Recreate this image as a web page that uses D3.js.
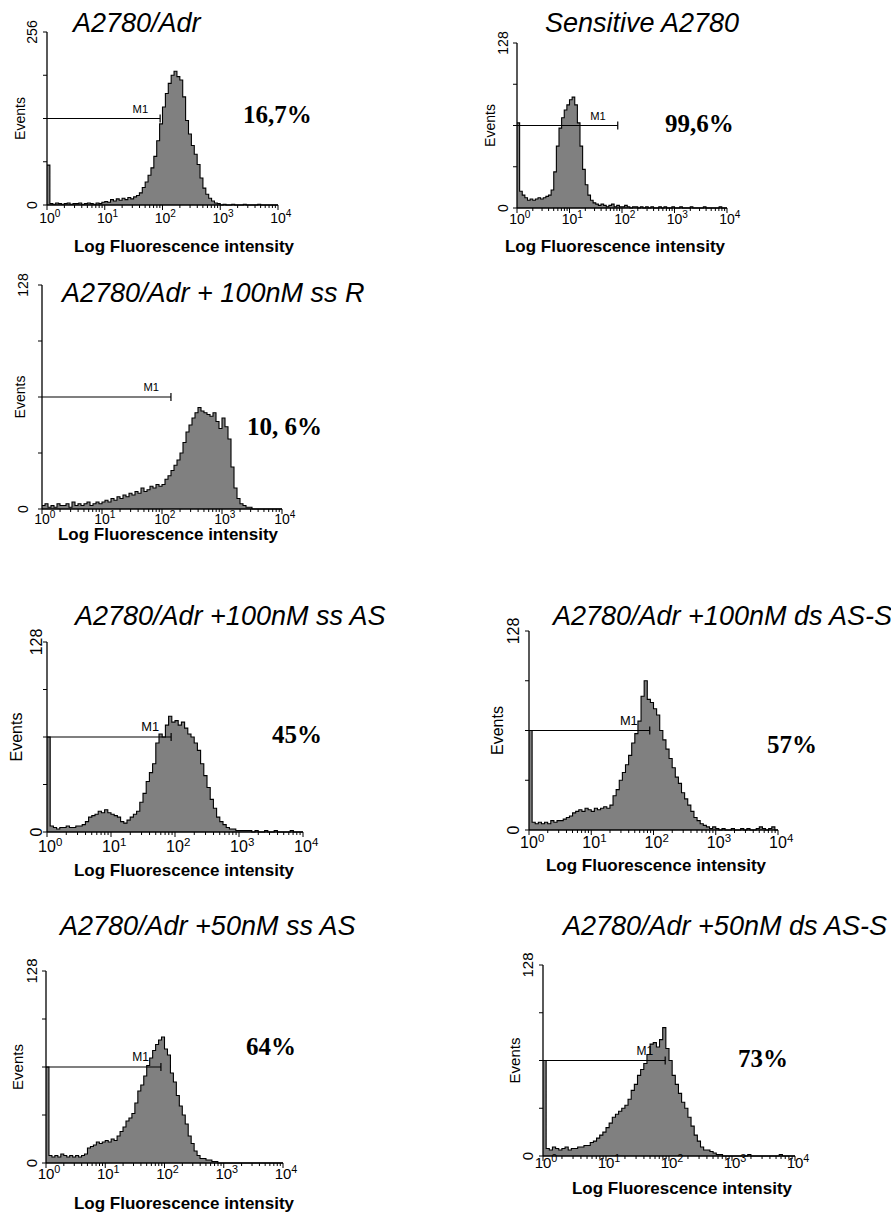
<!DOCTYPE html>
<html><head><meta charset="utf-8">
<script src="https://cdn.jsdelivr.net/npm/d3@7"></script>
<style>body{margin:0;background:#fff}</style>
</head><body>
<svg id="c" width="891" height="1213"></svg>
<script>
// ---------- data ----------
const titles = ["A2780/Adr", "Sensitive A2780", "A2780/Adr + 100nM ss R", "A2780/Adr +100nM ss AS",
                "A2780/Adr +100nM ds AS-S", "A2780/Adr +50nM ss AS", "A2780/Adr +50nM ds AS-S"];
const pctLabels = ["16,7%", "99,6%", "10, 6%", "45%", "57%", "64%", "73%"];
const yMaxValues = [256, 128, 128, 128, 128, 128, 128];
const gateLabel = "M1";
const gateEnds = [91, 83, 141, 87, 87, 87, 87];
const xTickExponents = [0, 1, 2, 3, 4];
const yAxisLabel = "Events";
const xAxisLabel = "Log Fluorescence intensity";
const binDecades = 0.05; // channel width in decades

const hist1 = [59,2,1,3,2,1,2,3,1,2, 2,3,1,2,3,2,1,3,2,4, 5,4,8,6,9,7,10,8,11,9,
  12,14,18,26,34,44,55,72,95,120, 145,165,180,192,198,190,185,160,125,105,
  88,75,60,40,25,16,10,6,3,2, 0,1,0,0,1,0,0,0,1,0, 0,0,0,1,0,0,0,0,0,0];
const hist2 = [66,13,10,8,6,7,6,7,8,7, 8,9,10,14,28,48,62,70,76,80, 84,86,80,66,48,30,18,10,6,4,
  3,2,3,2,1,2,3,1,2,1, 1,2,1,0,1,1,0,1,0,1, 0,1,0,0,1,0,1,0,0,1,
  0,0,1,0,0,0,1,0,0,0, 0,1,0,0,0,0,0,1,0,0];
const hist3 = [2,3,1,2,1,3,2,2,3,1, 4,2,3,2,3,4,2,3,4,3, 4,5,4,6,5,7,6,8,7,9,
  8,10,9,12,10,11,13,12,14,13, 14,17,19,22,25,28,32,38,44,48,
  52,55,58,56,55,54,53,55,50,46, 52,47,40,24,12,6,3,2,1,1, 0,0,0,0,0,0,0,0,0,0];
const hist4 = [64,4,3,2,3,3,4,3,3,4, 4,5,7,10,11,12,14,13,15,13, 12,11,10,7,6,8,10,12,14,20,
  26,34,40,46,60,66,64,72,78,74, 75,72,74,70,66,64,60,55,46,38,
  30,22,16,10,7,5,3,2,2,1, 1,1,1,1,0,1,0,0,1,0, 0,1,0,0,0,0,1,0,0,0];
const hist5 = [64,5,4,5,4,5,4,6,5,6, 6,7,8,9,11,12,13,12,14,13, 12,14,13,14,15,14,16,22,26,32,
  37,42,48,56,62,70,86,96,84,82, 78,74,64,58,52,46,40,34,30,24,
  20,16,12,8,6,4,3,2,1,2, 1,0,1,0,0,1,0,0,1,0, 1,0,0,1,2,1,0,1,2,0];
const hist6 = [64,5,4,5,4,6,5,4,5,4, 5,4,5,6,10,11,12,14,13,14, 15,14,16,15,18,21,24,28,30,33,
  40,48,52,58,65,70,75,79,82,84, 76,72,60,54,45,38,32,26,18,13,
  8,5,3,3,2,2,1,1,0,0, 0,0,0,0,0,0,0,0,0,0, 0,0,0,0,0,0,0,0,0,0];
const hist7 = [64,5,4,6,5,4,5,6,4,5, 5,6,6,7,7,9,10,12,14,16, 19,22,26,28,30,32,34,38,44,48,
  54,58,62,68,75,76,73,78,86,72, 64,54,48,42,36,32,26,20,14,10,
  6,4,4,3,2,1,1,0,0,0, 0,0,0,0,0,1,0,0,0,0, 0,0,0,0,0,1,0,0,0,0];
const histograms = [hist1, hist2, hist3, hist4, hist5, hist6, hist7];

// ---------- layout (positions only) ----------
const layout = [
  {l:47,  t:32,  r:278, b:205,  fs:14, tdy:18, yl:10, ev:22, title:[73,32],   pct:[243,123],  xl:[184,252]},
  {l:517, t:43,  r:727, b:208,  fs:14, tdy:16, yl:9,  ev:22, title:[545,32],  pct:[665,132],  xl:[615,252]},
  {l:42,  t:285, r:282, b:509,  fs:14, tdy:15, yl:14, ev:17, title:[62,302],  pct:[247,435],  xl:[168,540]},
  {l:47,  t:642, r:303, b:832,  fs:16, tdy:20, yl:5,  ev:25, title:[75,625],  pct:[272,743],  xl:[184,876]},
  {l:529, t:631, r:778, b:830,  fs:16, tdy:18, yl:10, ev:26, title:[553,625], pct:[767,753],  xl:[656,871]},
  {l:46,  t:971, r:283, b:1163, fs:15, tdy:16, yl:9,  ev:23, title:[60,935],  pct:[246,1055], xl:[184,1209]},
  {l:543, t:965, r:795, b:1156, fs:15, tdy:12, yl:10, ev:23, title:[563,935], pct:[738,1067], xl:[682,1194]}
];

const svg = d3.select("#c");
const sans = "Liberation Sans, Arial, sans-serif";

histograms.forEach((hist, p) => {
  const L = layout[p];
  const yMax = yMaxValues[p];
  const g = svg.append("g");
  const x = d3.scaleLog().domain([1, 1e4]).range([L.l, L.r]);
  const y = d3.scaleLinear().domain([0, yMax]).range([L.b, L.t]);

  const pts = hist.map((v, i) => ({e: Math.pow(10, i * binDecades), v}));
  pts.push({e: 1e4, v: hist[hist.length - 1]});

  const area = d3.area().x(d => x(d.e)).y0(y(0)).y1(d => y(d.v)).curve(d3.curveStepAfter);
  const line = d3.line().x(d => x(d.e)).y(d => y(d.v)).curve(d3.curveStepAfter);
  g.append("path").attr("d", area(pts)).attr("fill", "#808080");
  g.append("path").attr("d", line(pts)).attr("fill", "none").attr("stroke", "#000").attr("stroke-width", 1.1);

  // axes
  g.append("line").attr("x1", L.l).attr("x2", L.r).attr("y1", L.b).attr("y2", L.b)
    .attr("stroke", "#000").attr("stroke-width", 1.3);
  g.append("line").attr("x1", L.l).attr("x2", L.l).attr("y1", L.t).attr("y2", L.b)
    .attr("stroke", "#000").attr("stroke-width", 1.3);

  x.ticks().forEach(tv => {
    const major = Math.abs(Math.log10(tv) - Math.round(Math.log10(tv))) < 1e-9;
    g.append("line").attr("x1", x(tv)).attr("x2", x(tv)).attr("y1", L.b).attr("y2", L.b + (major ? 5 : 3))
      .attr("stroke", "#000").attr("stroke-width", 1);
  });
  xTickExponents.forEach(ex => {
    const t = g.append("text").attr("x", x(Math.pow(10, ex)) + L.fs * 0.2).attr("y", L.b + L.tdy)
      .attr("text-anchor", "middle").attr("font-family", sans).attr("font-size", L.fs).text("10");
    t.append("tspan").attr("dy", -L.fs * 0.4).attr("font-size", L.fs * 0.72).text(ex);
  });

  d3.range(0, yMax + 1, yMax / 4).forEach(tv => {
    g.append("line").attr("x1", L.l - 4).attr("x2", L.l).attr("y1", y(tv)).attr("y2", y(tv))
      .attr("stroke", "#000").attr("stroke-width", 1);
  });
  [0, yMax].forEach(tv => {
    g.append("text").attr("transform", `translate(${L.l - L.yl},${y(tv)}) rotate(-90)`)
      .attr("text-anchor", "middle").attr("font-family", sans).attr("font-size", L.fs).text(tv);
  });
  g.append("text").attr("transform", `translate(${L.l - L.ev},${(L.t + L.b) / 2}) rotate(-90)`)
    .attr("text-anchor", "middle").attr("font-family", sans).attr("font-size", L.fs).text(yAxisLabel);

  // gate marker
  const gy = y(yMax / 2), gx = x(gateEnds[p]);
  g.append("line").attr("x1", L.l).attr("x2", gx).attr("y1", gy).attr("y2", gy)
    .attr("stroke", "#000").attr("stroke-width", 1.2);
  g.append("line").attr("x1", gx).attr("x2", gx).attr("y1", gy - 4).attr("y2", gy + 4)
    .attr("stroke", "#000").attr("stroke-width", 1.2);
  g.append("text").attr("x", gx - 12).attr("y", gy - 6).attr("text-anchor", "end")
    .attr("font-family", sans).attr("font-size", L.fs * 0.8).text(gateLabel);

  // texts
  g.append("text").attr("x", L.title[0]).attr("y", L.title[1]).attr("font-family", sans)
    .attr("font-style", "italic").attr("font-size", 27).text(titles[p]);
  g.append("text").attr("x", L.pct[0]).attr("y", L.pct[1]).attr("font-family", "Liberation Serif, Times New Roman, serif")
    .attr("font-weight", "bold").attr("font-size", 25).text(pctLabels[p]);
  g.append("text").attr("x", L.xl[0]).attr("y", L.xl[1]).attr("text-anchor", "middle").attr("font-family", sans)
    .attr("font-weight", "bold").attr("font-size", 17).text(xAxisLabel);
});
</script>
</body></html>
